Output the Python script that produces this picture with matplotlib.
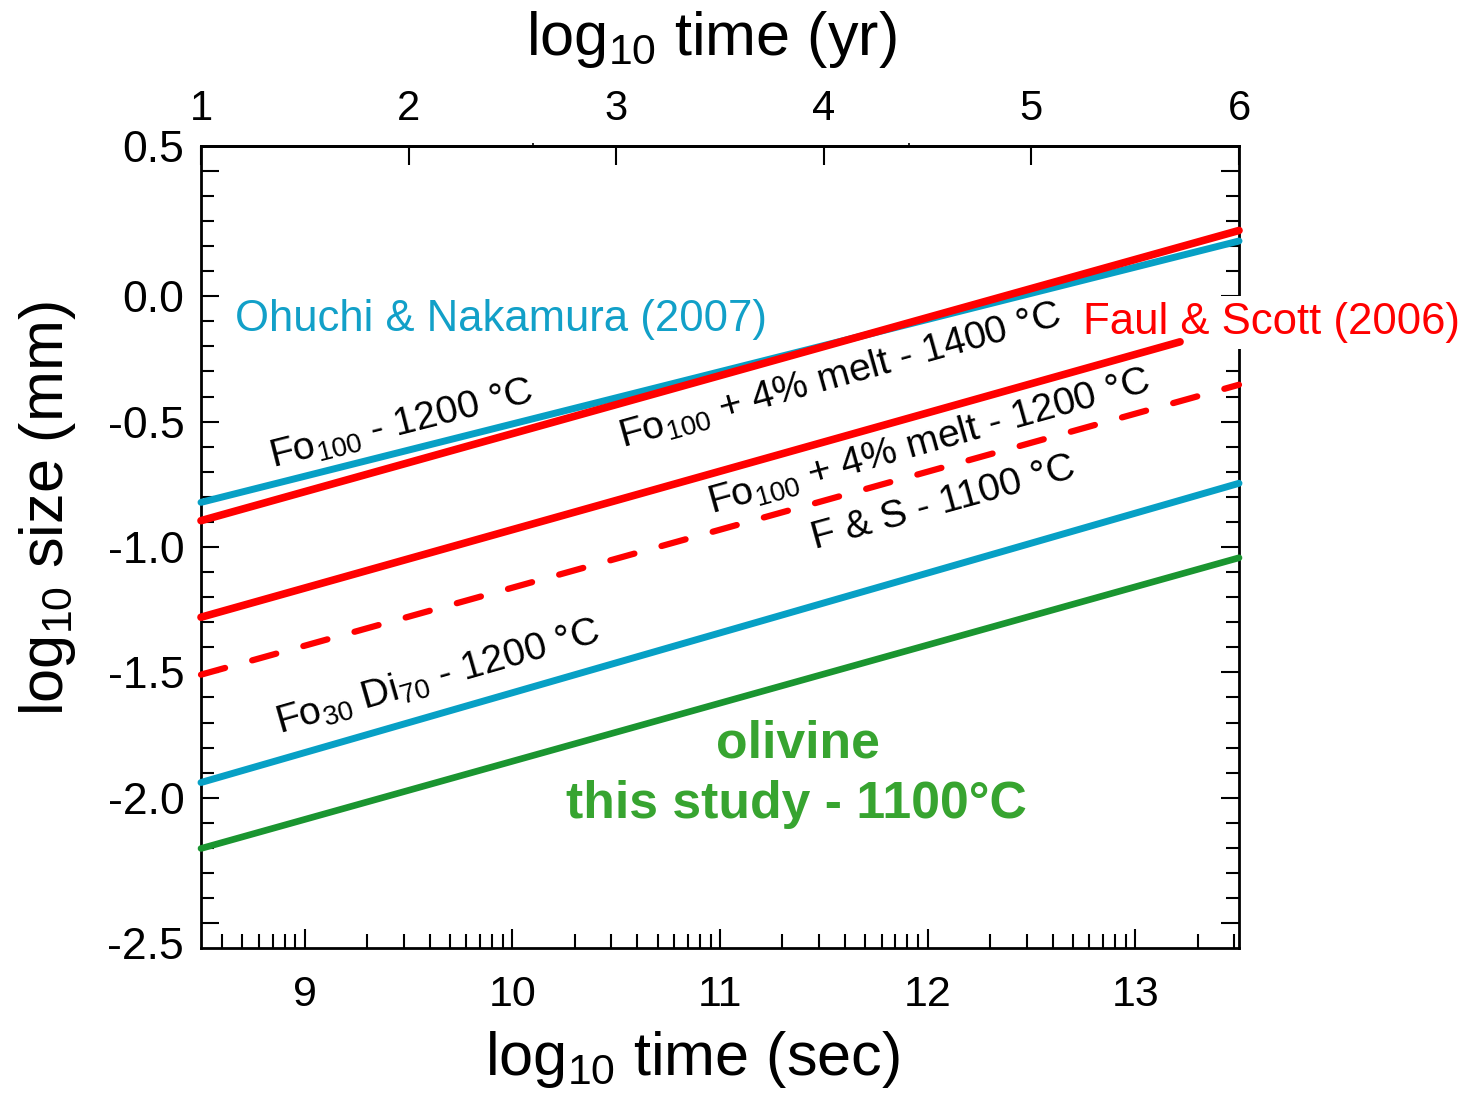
import numpy as np
import matplotlib
matplotlib.use("Agg")
import matplotlib.pyplot as plt
from matplotlib.ticker import FixedLocator

plt.rcParams['font.family'] = ['Liberation Sans', 'DejaVu Sans']
plt.rcParams['mathtext.fontset'] = 'custom'
plt.rcParams['mathtext.rm'] = 'Liberation Sans'
plt.rcParams['mathtext.it'] = 'Liberation Sans:italic'
plt.rcParams['mathtext.bf'] = 'Liberation Sans:bold'
plt.rcParams['mathtext.default'] = 'regular'

# ---------------- data (log10 time in sec, log10 size in mm) ----------------
x_sec = [8.5, 13.5]
on_fo100_1200 = [-0.822, 0.220]        # Ohuchi & Nakamura, Fo100 - 1200 C
fs_melt_1400 = [-0.895, 0.262]         # Faul & Scott, Fo100 + 4% melt - 1400 C
fs_melt_1200_x = [8.5, 13.216]
fs_melt_1200 = [-1.280, -0.182]        # Faul & Scott, Fo100 + 4% melt - 1200 C
fs_1100 = [-1.509, -0.353]             # F & S - 1100 C (dashed)
on_fo30di70 = [-1.939, -0.746]         # Ohuchi & Nakamura, Fo30 Di70 - 1200 C
this_study = [-2.202, -1.043]          # olivine, this study - 1100 C

y_ticks = [-2.5, -2.0, -1.5, -1.0, -0.5, 0.0, 0.5]
y_ticklabels = ['-2.5', '-2.0', '-1.5', '-1.0', '-0.5', '0.0', '0.5']
x_ticks = [9, 10, 11, 12, 13]
yr_ticks = [1, 2, 3, 4, 5, 6]

BLUE = '#07a0c5'
RED = '#ff0000'
GREEN = '#1a9530'
GREEN_T = '#37a430'

W, H = 1466, 1093
fig = plt.figure(figsize=(W / 100, H / 100), dpi=100)
L, R, T, B = 201, 1239, 145.7, 948.3
ax = fig.add_axes([L / W, 1 - B / H, (R - L) / W, (B - T) / H])
ax.set_xlim(8.5, 13.5)
ax.set_ylim(-2.6, 0.6)

lkw = dict(solid_capstyle='round', dash_capstyle='round', clip_on=False, zorder=4)
ax.plot(x_sec, on_fo100_1200, color=BLUE, lw=5.0, **lkw)
ax.plot(x_sec, fs_melt_1400, color=RED, lw=5.5, **lkw)
ax.plot(fs_melt_1200_x, fs_melt_1200, color=RED, lw=5.5, **lkw)
ax.plot(x_sec, fs_1100, color=RED, lw=4.5, dashes=(4.0, 4.5), **lkw)
ax.plot(x_sec, on_fo30di70, color=BLUE, lw=5.0, **lkw)
ax.plot(x_sec, this_study, color=GREEN, lw=4.8, **lkw)

# ---------------- ticks ----------------
ax.set_yticks(y_ticks)
ax.set_yticklabels(['' if v in (-2.5, 0.5) else s for v, s in zip(y_ticks, y_ticklabels)])
ax.yaxis.set_minor_locator(FixedLocator(np.round(np.arange(-2.5, 0.55, 0.1), 2)))
ax.tick_params(axis='y', which='both', direction='in', left=True, right=True,
               labelsize=32, pad=12)
ax.tick_params(axis='y', which='major', length=13, width=1.5)
ax.tick_params(axis='y', which='minor', length=9.5, width=1.5)
ytr = ax.get_yaxis_transform()
ax.text(-0.0164, 0.579, '0.5', transform=ytr, ha='right', va='center', fontsize=32)
ax.text(-0.0164, -2.596, '-2.5', transform=ytr, ha='right', va='center', fontsize=32)

ax.set_xticks(x_ticks)
ax.set_xticklabels([str(v) for v in x_ticks])
minor_x = [n + np.log10(k) for n in range(8, 14) for k in range(2, 10)]
minor_x = [v for v in minor_x if 8.5 < v < 13.5]
ax.xaxis.set_minor_locator(FixedLocator(minor_x))
ax.tick_params(axis='x', which='both', direction='in', top=False, bottom=True,
               labelsize=31, pad=19)
ax.tick_params(axis='x', which='major', length=14, width=1.5)
ax.tick_params(axis='x', which='minor', length=10, width=1.5)

secax = ax.secondary_xaxis('top', functions=(lambda x: x - 7.5, lambda x: x + 7.5))
secax.set_xticks(yr_ticks)
secax.set_xticklabels([str(v) for v in yr_ticks])
secax.set_xticks([2.6, 4.41], minor=True)
secax.tick_params(which='major', direction='in', length=14, width=1.5,
                  labelsize=30, pad=12)
secax.tick_params(which='minor', direction='out', length=2, width=1.2)

for sp in ax.spines.values():
    sp.set_linewidth(2.0)
secax.spines['top'].set_linewidth(2.0)

# ---------------- annotations ----------------
ax.text(8.664, -0.138, 'Ohuchi & Nakamura (2007)', color='#12a0c8', fontsize=31.4,
        ha='left', va='baseline', zorder=5)
ax.text(11.36 + (1086 - 798) / 207.6, (295.3 - 333) / 251, 'Faul & Scott (2006)',
        color=RED, fontsize=31.5, ha='left', va='baseline', clip_on=False, zorder=3,
        bbox=dict(facecolor='white', edgecolor='none', pad=4))

rk = dict(fontsize=28.3, ha='left', va='baseline', rotation_mode='anchor', zorder=5)
ax.text(8.847, -0.684, 'Fo$_{100}$ - 1200 °C', rotation=14.2, **rk)
ax.text(10.533, -0.604, 'Fo$_{100}$ + 4% melt - 1400 °C', rotation=15.6, **rk)
ax.text(10.961, -0.867, 'Fo$_{100}$ + 4% melt - 1200 °C', rotation=15.6, **rk)
ax.text(11.458, -1.007, 'F & S - 1100 °C', rotation=15.4, **rk)
ax.text(8.881, -1.744, 'Fo$_{30}$ Di$_{70}$ - 1200 °C', rotation=16.0, **rk)

ax.text(11.376, -1.839, 'olivine', color=GREEN_T, fontsize=37.3, fontweight='bold',
        ha='center', va='baseline', zorder=5)
ax.text(11.368, -2.082, 'this study - 1100°C', color=GREEN_T, fontsize=37.3,
        fontweight='bold', ha='center', va='baseline', zorder=5)

# ---------------- axis titles ----------------
fig.text(711 / W, 1 - 55 / H, 'log$_{10}$ time (yr)', fontsize=44, ha='center', va='baseline')
fig.text(692 / W, 1 - 1075 / H, 'log$_{10}$ time (sec)', fontsize=44, ha='center', va='baseline')
fig.text(63 / W, 1 - 509 / H, 'log$_{10}$ size (mm)', fontsize=44, ha='center', va='baseline',
         rotation=90, rotation_mode='anchor')

fig.savefig('out.png', dpi=100)
